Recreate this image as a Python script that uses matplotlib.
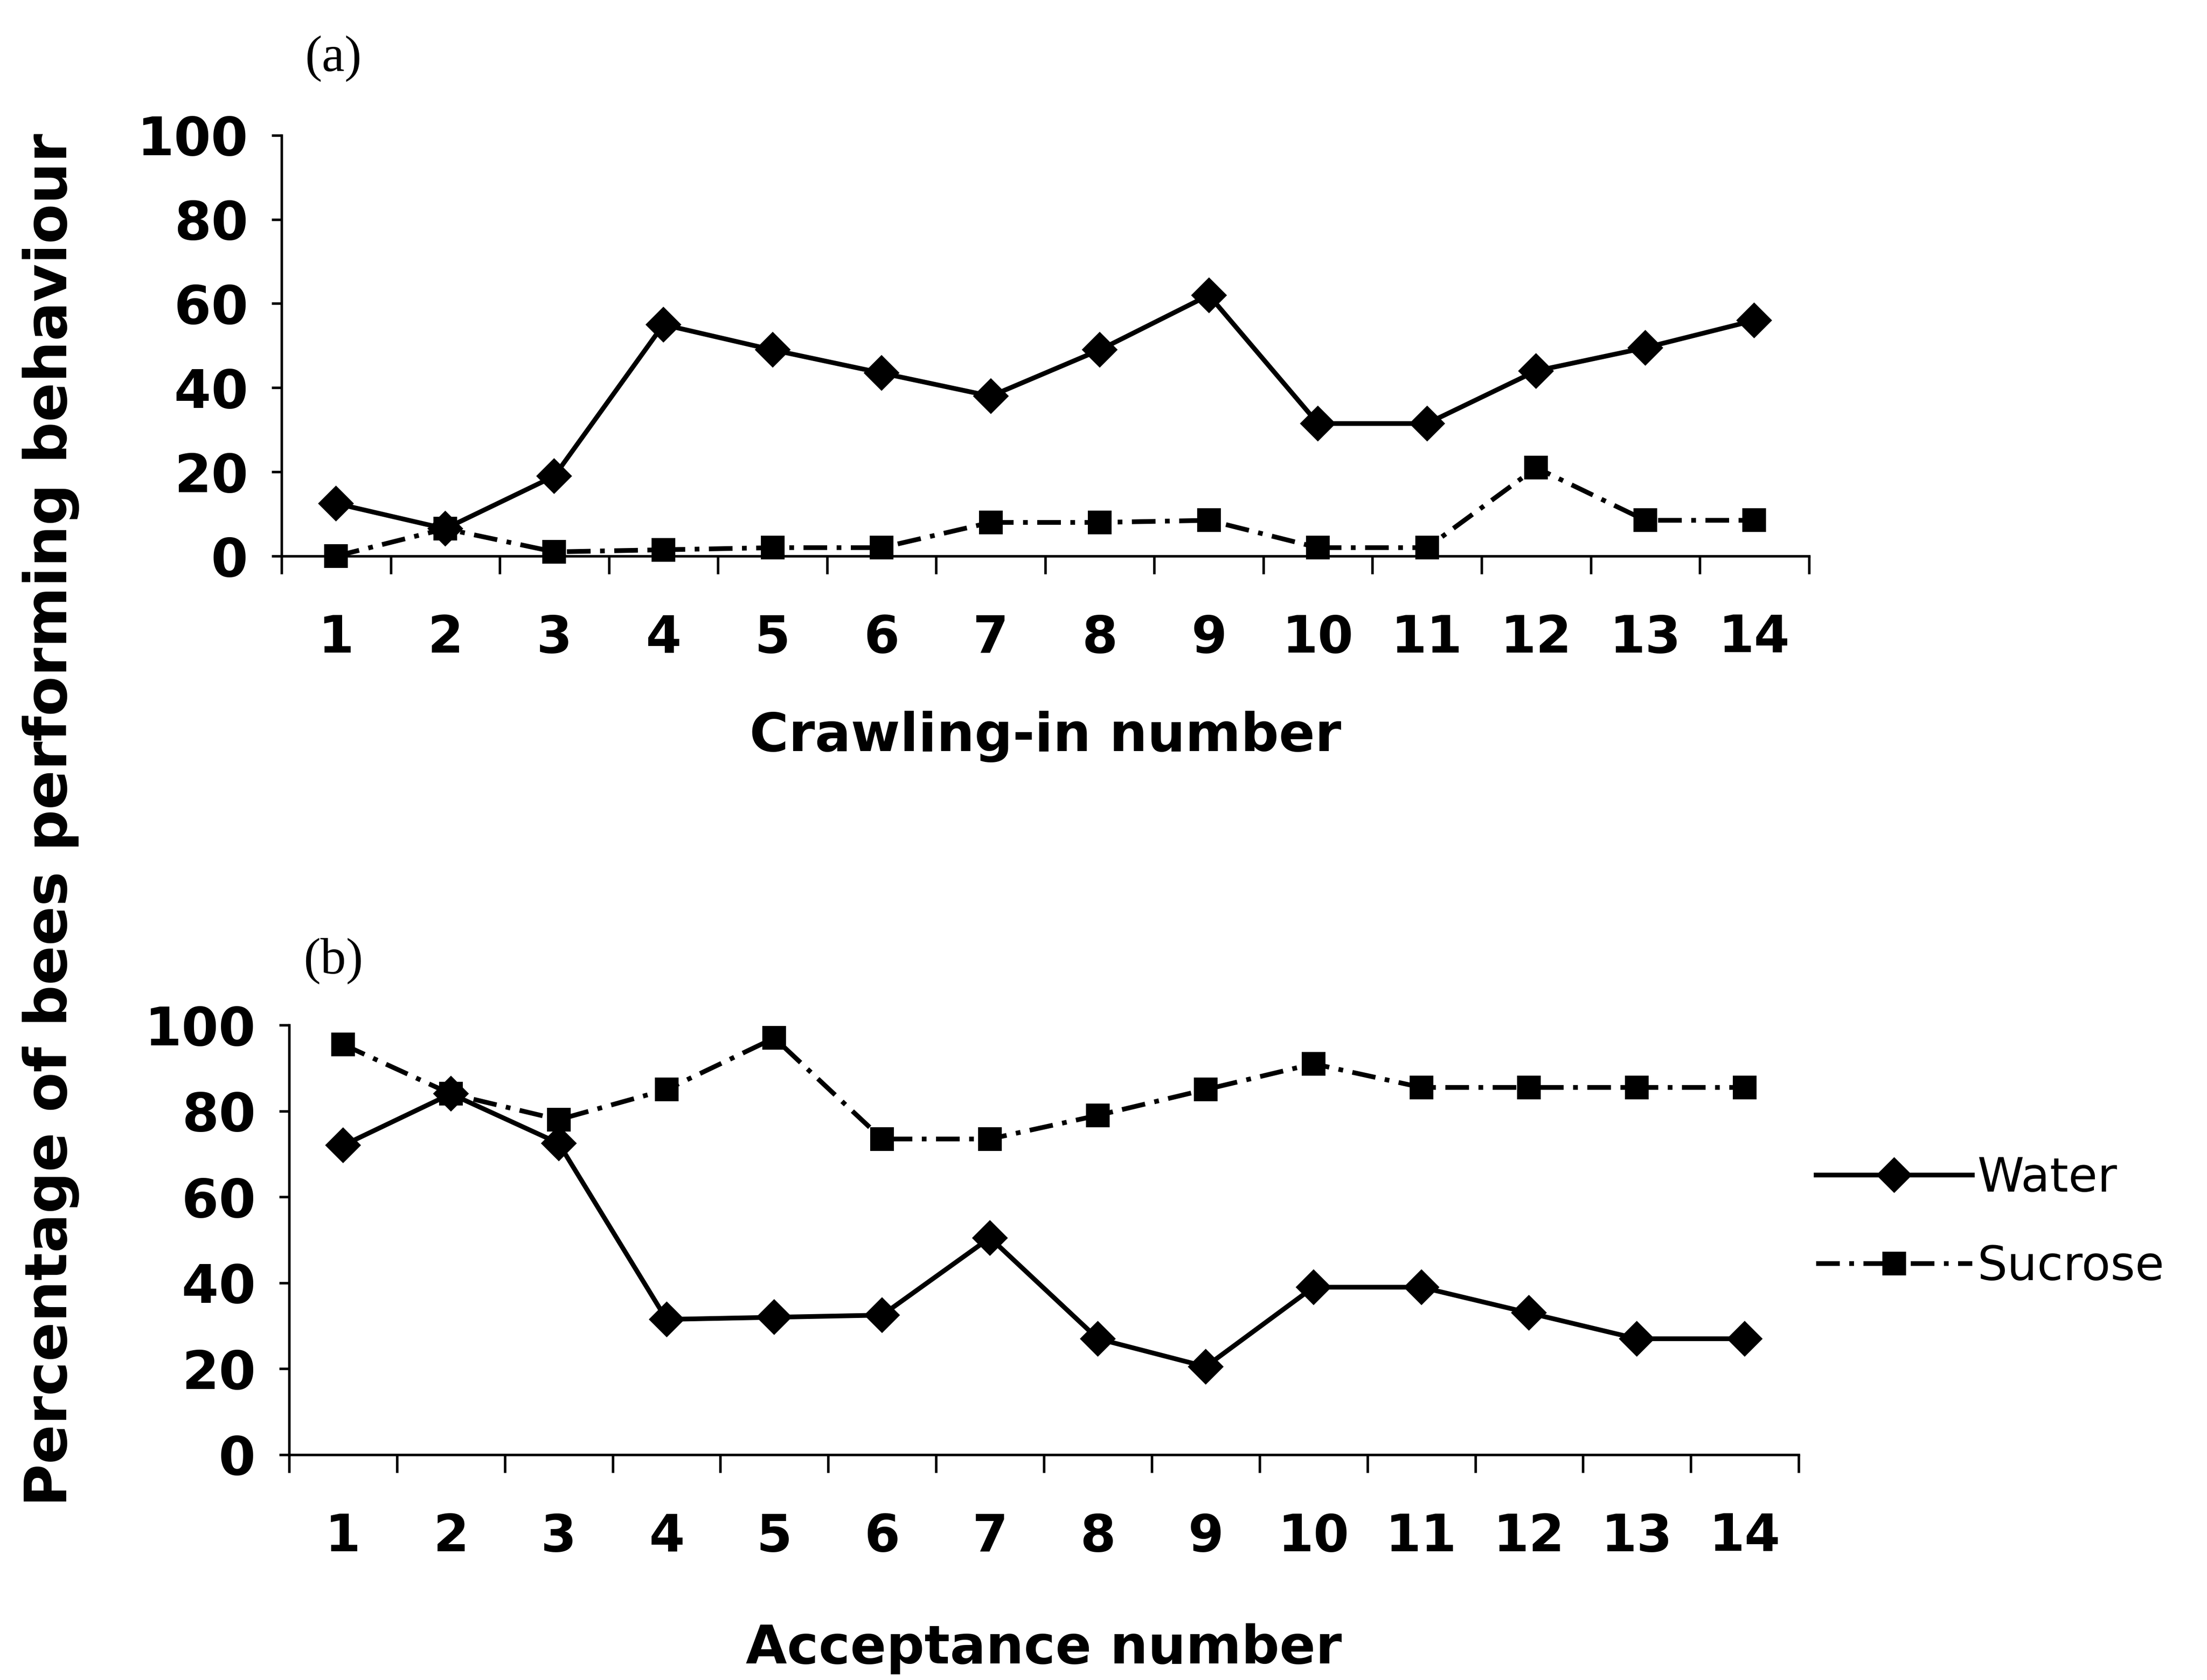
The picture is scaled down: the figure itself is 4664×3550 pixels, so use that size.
import numpy as np
import matplotlib
matplotlib.use("Agg")
import matplotlib.pyplot as plt
from matplotlib.ticker import FixedLocator

plt.rcParams["font.family"] = ["DejaVu Sans"]

# data
trials = np.arange(1, 15)
crawl_water = [12.5, 6.5, 19, 55, 49, 43.5, 38, 49, 62, 31.5, 31.5, 44, 49.5, 56]
crawl_sucrose = [0, 6.5, 1, 1.5, 2, 2, 8, 8, 8.5, 2, 2, 21, 8.5, 8.5]
accept_water = [72, 84, 72.5, 31.5, 32, 32.5, 50.5, 27, 20.5, 39, 39, 33, 27, 27]
accept_sucrose = [95.5, 84, 78, 85, 97, 73.5, 73.5, 79, 85, 91, 85.5, 85.5, 85.5, 85.5]
yticks = [0, 20, 40, 60, 80, 100]

SUC_LS = (0, (5, 2, 1, 2))


def style_axes(ax, water, sucrose, xlabel, labelpad):
    ax.plot(trials, water, color="black", lw=2.4, marker="D", ms=12,
            label="Water", clip_on=False, zorder=3)
    ax.plot(trials, sucrose, color="black", lw=2.4, ls=SUC_LS, marker="s",
            ms=11, label="Sucrose", clip_on=False, zorder=3)
    ax.set_xlim(0.5, 14.5)
    ax.set_ylim(0, 100)
    for s in ["top", "right"]:
        ax.spines[s].set_visible(False)
    for s in ["left", "bottom"]:
        ax.spines[s].set_linewidth(1.3)
    # tick marks between categories, labels at category centres
    ax.xaxis.set_major_locator(FixedLocator(np.arange(0.5, 15, 1)))
    ax.xaxis.set_minor_locator(FixedLocator(trials))
    ax.set_xticklabels([])
    ax.set_xticklabels([str(t) for t in trials], minor=True)
    ax.tick_params(axis="x", which="major", length=9, width=1.3, direction="out")
    ax.tick_params(axis="x", which="minor", length=0, pad=29, labelsize=26)
    for lab in ax.get_xticklabels(minor=True):
        lab.set_fontweight("bold")
    ax.set_yticks(yticks)
    ax.tick_params(axis="y", length=5, width=1.3, pad=12, labelsize=27)
    for lab in ax.get_yticklabels():
        lab.set_fontweight("bold")
    ax.set_xlabel(xlabel, fontsize=27, fontweight="bold", labelpad=labelpad)


fig = plt.figure(figsize=(4664 / 300, 3550 / 300), dpi=300)
ax1 = fig.add_axes([0.1276, 0.669, 0.692, 0.2505])
ax2 = fig.add_axes([0.131, 0.1341, 0.684, 0.2557])

style_axes(ax1, crawl_water, crawl_sucrose, "Crawling-in number", 24)
style_axes(ax2, accept_water, accept_sucrose, "Acceptance number", 31)

fig.text(0.151, 0.965, "(a)", family="Liberation Serif", fontsize=26,
         ha="center", va="center")
fig.text(0.151, 0.428, "(b)", family="Liberation Serif", fontsize=26,
         ha="center", va="center")

fig.text(0.023, 0.512, "Percentage of bees performing behaviour", rotation=90,
         fontsize=29.5, fontweight="bold", ha="center", va="center")

handles, labels = ax2.get_legend_handles_labels()
fig.legend(handles, labels, loc="center left", bbox_to_anchor=(0.823, 0.272),
           frameon=False, fontsize=24, handlelength=3.3, handletextpad=0.1,
           labelspacing=0.9, borderpad=0, borderaxespad=0)

fig.savefig("out.png", dpi=300)
